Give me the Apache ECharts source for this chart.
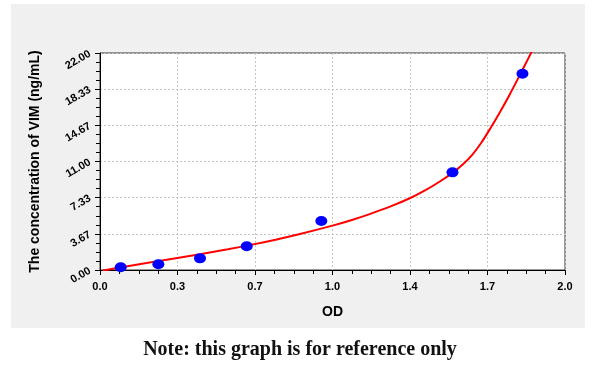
<!DOCTYPE html>
<html>
<head>
<meta charset="utf-8">
<script src="https://cdn.jsdelivr.net/npm/echarts@6/dist/echarts.min.js"></script>
<style>
  html, body { margin: 0; padding: 0; background: #ffffff; }
  #chart { width: 600px; height: 370px; }
</style>
</head>
<body>
<div id="chart"></div>
<script>
// Standard points (OD, concentration)
const pointOD = [0.089, 0.251, 0.430, 0.631, 0.952, 1.516, 1.817];
const pointConc = [0.27, 0.58, 1.18, 2.40, 4.97, 9.90, 19.90];

// Fitted curve
const curveOD = [0.013, 0.10, 0.20, 0.30, 0.43, 0.55, 0.66, 0.76, 0.86, 1.00, 1.08, 1.16, 1.25, 1.33, 1.40, 1.46, 1.516, 1.56, 1.60, 1.64, 1.68, 1.72, 1.76, 1.80, 1.84, 1.88];
const curveConc = [-0.05, 0.30, 0.70, 1.10, 1.60, 2.10, 2.60, 3.10, 3.65, 4.50, 5.05, 5.67, 6.45, 7.25, 8.10, 8.95, 9.85, 10.70, 11.65, 12.90, 14.40, 16.00, 17.70, 19.50, 21.35, 23.25];

// Tick labels
const xTickLabels = ['0.0', '0.3', '0.7', '1.0', '1.4', '1.7', '2.0'];
const yTickLabels = ['0.00', '3.67', '7.33', '11.00', '14.67', '18.33', '22.00'];

const xMax = 2.0, xSteps = 6;
const yMax = 22.0, ySteps = 6;

const chart = echarts.init(document.getElementById('chart'), null, { renderer: 'canvas' });

const option = {
  backgroundColor: '#ffffff',
  animation: false,
  graphic: [
    { type: 'rect', z: -10, shape: { x: 11, y: 4, width: 574, height: 324 }, style: { fill: '#f0f0f0' } },
    { type: 'text', left: 'center', top: 340, style: { text: 'Note: this graph is for reference only', font: 'bold 20px "Liberation Serif", serif', fill: '#111111' } }
  ],
  grid: {
    left: 100, top: 53, right: 35, bottom: 100,
    show: true, backgroundColor: '#ffffff', borderColor: '#333333', borderWidth: 1
  },
  xAxis: {
    type: 'value', min: 0, max: xMax, interval: xMax / xSteps,
    name: 'OD', nameLocation: 'middle', nameGap: 35,
    nameTextStyle: { fontFamily: 'Liberation Sans', fontWeight: 'bold', fontSize: 14, color: '#000' },
    axisLine: { show: true, onZero: false, lineStyle: { color: '#000', width: 1 } },
    axisTick: { show: true, length: 5, lineStyle: { color: '#000' } },
    minorTick: { show: true, splitNumber: 4, length: 4, lineStyle: { color: '#000' } },
    axisLabel: {
      margin: 11, fontFamily: 'Liberation Sans', fontWeight: 'bold', fontSize: 11, color: '#000',
      formatter: v => xTickLabels[Math.round(v / (xMax / xSteps))]
    },
    splitLine: { show: true, lineStyle: { color: '#c4c4c4', type: [2, 2], width: 1 } }
  },
  yAxis: {
    type: 'value', min: 0, max: yMax, interval: yMax / ySteps,
    name: 'The concentration of VIM (ng/mL)', nameLocation: 'middle', nameGap: 58,
    nameTextStyle: { fontFamily: 'Liberation Sans', fontWeight: 'bold', fontSize: 14, color: '#000' },
    axisLine: { show: true, onZero: false, lineStyle: { color: '#000', width: 1 } },
    axisTick: { show: true, length: 5, lineStyle: { color: '#000' } },
    minorTick: { show: true, splitNumber: 4, length: 4, lineStyle: { color: '#000' } },
    axisLabel: {
      margin: 10, rotate: 30, fontFamily: 'Liberation Sans', fontWeight: 'bold', fontSize: 11, color: '#000',
      formatter: v => yTickLabels[Math.round(v / (yMax / ySteps))]
    },
    splitLine: { show: true, lineStyle: { color: '#c4c4c4', type: [2, 2], width: 1 } }
  },
  series: [
    {
      type: 'line', name: 'curve', smooth: 0.3, showSymbol: false, clip: true,
      data: curveOD.map((x, i) => [x, curveConc[i]]),
      lineStyle: { color: '#ff0000', width: 2 }, z: 3
    },
    {
      type: 'scatter', name: 'points', symbol: 'circle', symbolSize: [12, 10],
      data: pointOD.map((x, i) => [x, pointConc[i]]),
      itemStyle: { color: '#0000ff', opacity: 1 }, z: 4
    }
  ]
};
chart.setOption(option);
</script>
</body>
</html>
